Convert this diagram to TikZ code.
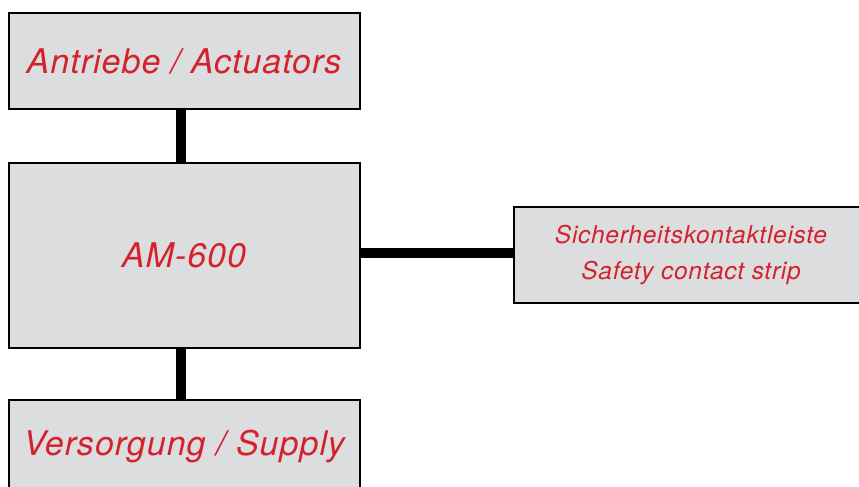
\documentclass[tikz,border=0pt]{standalone}
\usepackage{fontspec}
\setmainfont{TeX Gyre Heros}[LetterSpace=3]
\usetikzlibrary{positioning}
\definecolor{boxfill}{RGB}{220,221,223}
\definecolor{labred}{RGB}{212,33,44}
\tikzset{
  unit/.style={rectangle,draw=black,line width=2pt,fill=boxfill,
    text=labred,font=\itshape\fontsize{34}{40}\selectfont,minimum width=351pt},
  smallunit/.style={unit,font=\itshape\fontsize{24.5}{36}\selectfont,align=center,
    minimum width=354pt,minimum height=96pt},
  link/.style={line width=10pt,draw=black}
}
\begin{document}
\begin{tikzpicture}[x=1pt,y=-1pt]
  \useasboundingbox (0,0) rectangle (859,487);
  \clip (0,0) rectangle (859,487);
  \node[unit,minimum height=95pt] (act) at (184,61) {Antriebe / Actuators};
  \node[unit,minimum height=185pt] (am) at (184,255.5) {AM-600};
  \node[unit,minimum height=94pt] (sup) at (184,447) {Versorgung / Supply};
  \node[smallunit] (sik) at (691,255) {Sicherheitskontaktleiste\\Safety contact strip};
  \draw[link] ([xshift=-3pt]act.south) -- ([xshift=-3pt]am.north);
  \draw[link] ([xshift=-3pt]am.south) -- ([xshift=-3pt]sup.north);
  \draw[link] ([yshift=3pt]am.east) -- ([yshift=3pt]am.east -| sik.west);
\end{tikzpicture}
\end{document}
